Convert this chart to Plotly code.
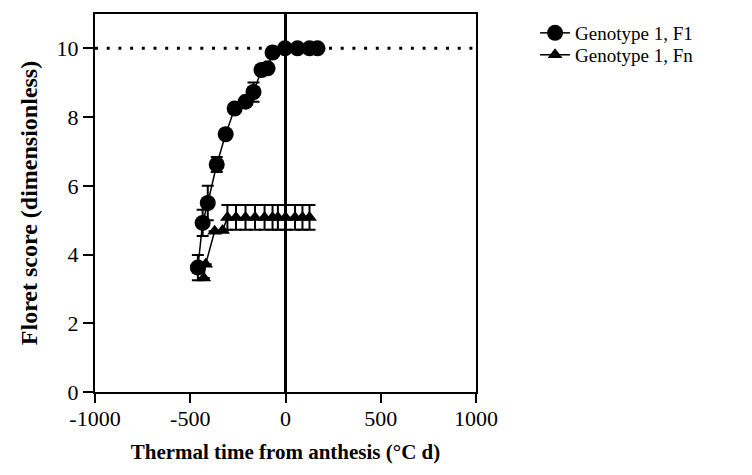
import plotly.graph_objects as go

# F1 series
f1_x = [-460, -435, -408, -361, -314, -267, -209, -168, -126, -94, -68, -3, 63, 126, 168]
f1_y = [3.62, 4.92, 5.5, 6.62, 7.5, 8.25, 8.45, 8.73, 9.37, 9.42, 9.88, 10.0, 10.0, 10.0, 10.0]
f1_err = [0.37, 0.38, 0.5, 0.22, 0, 0, 0, 0.28, 0, 0, 0, 0, 0, 0, 0]

# Fn series
fn_x = [-429, -419, -372, -330, -305, -260, -210, -160, -110, -68, -40, 0, 50, 89, 126]
fn_y = [3.32, 3.72, 4.68, 4.7, 5.08, 5.08, 5.08, 5.08, 5.08, 5.08, 5.08, 5.08, 5.08, 5.08, 5.08]
fn_err = [0, 0, 0, 0, 0.36, 0.36, 0.36, 0.36, 0.36, 0.36, 0.36, 0.36, 0.36, 0.36, 0.36]

x_ticks = [-1000, -500, 0, 500, 1000]
y_ticks = [0, 2, 4, 6, 8, 10]
ref_y = 10

FONT = "Liberation Serif"

fig = go.Figure()

# dotted reference line at y=10
fig.add_trace(go.Scatter(x=[-1000, 1000], y=[ref_y, ref_y], mode="lines",
                         line=dict(color="black", width=3, dash="3px,8.7px"),
                         showlegend=False, hoverinfo="skip"))
# vertical line at x=0
fig.add_trace(go.Scatter(x=[0, 0], y=[0, 11], mode="lines",
                         line=dict(color="black", width=3),
                         showlegend=False, hoverinfo="skip"))

fig.add_trace(go.Scatter(
    x=fn_x, y=fn_y, mode="lines+markers", name="Genotype 1, Fn",
    line=dict(color="black", width=1.5),
    marker=dict(symbol="triangle-up", size=13, color="black"),
    error_y=dict(type="data", array=fn_err, visible=True, color="black",
                 thickness=2, width=6),
    legend="legend2",
))
fig.add_trace(go.Scatter(
    x=f1_x, y=f1_y, mode="lines+markers", name="Genotype 1, F1",
    line=dict(color="black", width=1.5),
    marker=dict(symbol="circle", size=16, color="black"),
    error_y=dict(type="data", array=f1_err, visible=True, color="black",
                 thickness=2, width=6),
    legend="legend",
))

leg_common = dict(xanchor="left", yanchor="top",
                  font=dict(family=FONT, size=19, color="black"),
                  bgcolor="rgba(0,0,0,0)", borderwidth=0)

fig.update_layout(
    width=752, height=475,
    margin=dict(l=95, r=276, t=12, b=83),
    paper_bgcolor="white", plot_bgcolor="white",
    font=dict(family=FONT, color="black", size=18),
    showlegend=True,
    legend=dict(x=1.155, y=1.0, **leg_common),
    legend2=dict(x=1.155, y=0.942, **leg_common),
    xaxis=dict(range=[-1000, 1000], tickvals=x_ticks, ticktext=[str(v) for v in x_ticks],
               showline=True, linecolor="black", linewidth=2, mirror=True,
               ticks="outside", ticklen=9, tickwidth=2, tickcolor="black",
               showgrid=False, zeroline=False, ticklabelstandoff=-3,
               tickfont=dict(family=FONT, size=22),
               title=dict(text="<b>Thermal time from anthesis (°C d)</b>",
                          font=dict(family=FONT, size=21), standoff=14)),
    yaxis=dict(range=[0, 11], tickvals=y_ticks,
               showline=True, linecolor="black", linewidth=2, mirror=True,
               ticks="outside", ticklen=10, tickwidth=2, tickcolor="black",
               showgrid=False, zeroline=False,
               tickfont=dict(family=FONT, size=22),
               title=dict(text="<b>Floret score (dimensionless)</b>",
                          font=dict(family=FONT, size=24), standoff=12)),
)

fig.write_html("out.html")
